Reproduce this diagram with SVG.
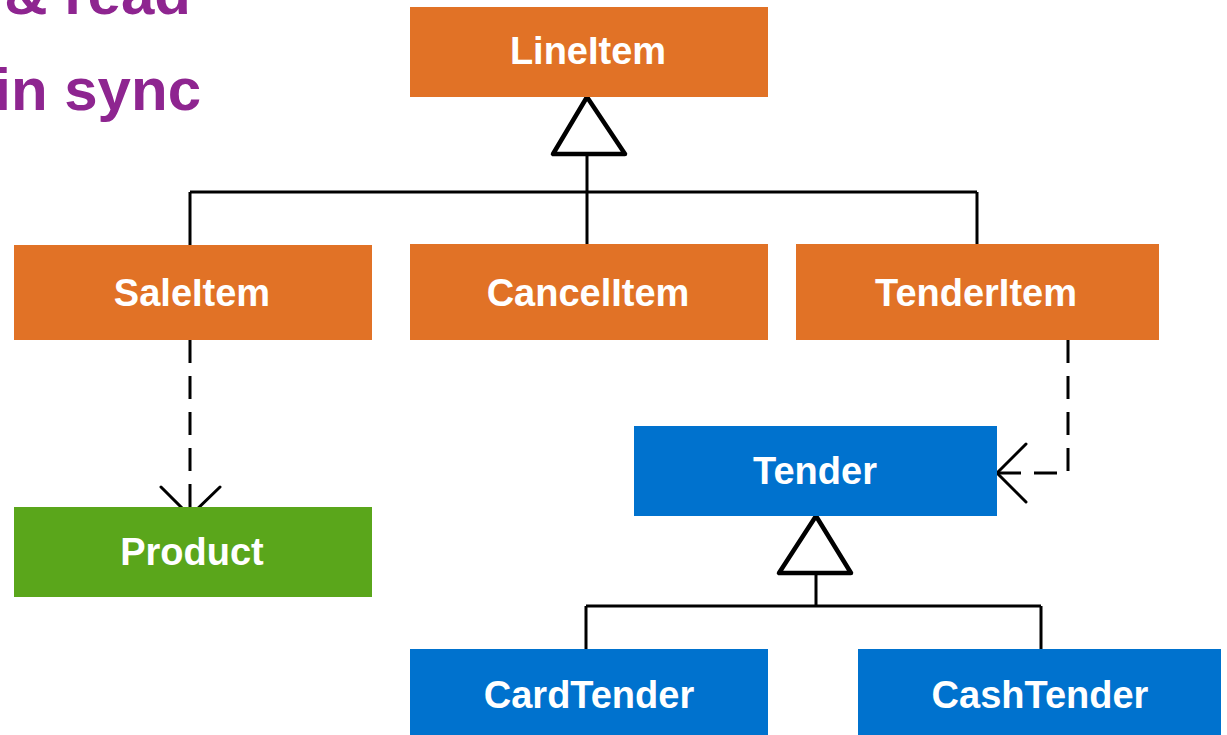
<svg xmlns="http://www.w3.org/2000/svg" width="1227" height="735" viewBox="0 0 1227 735">
<style>
.title{font-family:"Liberation Sans",Arial,sans-serif;font-weight:bold;font-size:60px;fill:#8E2590;text-anchor:end}
.lbl{font-family:"Liberation Sans",Arial,sans-serif;font-weight:bold;font-size:38px;fill:#ffffff;text-anchor:middle}
.orange{fill:#E17226}
.blue{fill:#0072CE}
.green{fill:#5AA61B}
.solid{fill:none;stroke:#000;stroke-width:3}
.tri{fill:#fff;stroke:#000;stroke-width:4.5;stroke-linejoin:round}
.dash{fill:none;stroke:#000;stroke-width:3;stroke-dasharray:23 13}
.head{fill:none;stroke:#000;stroke-width:3;stroke-linecap:round;stroke-linejoin:round}
</style>
<rect width="1227" height="735" fill="#ffffff"/>
<g id="title">
<text class="title" x="191" y="14">&amp; read</text>
<text class="title" x="201" y="110">in sync</text>
</g>
<g id="connectors">
<path class="solid" d="M587 154 V244 M190 192 H977 M190 192 V245 M977 192 V244"/>
<polygon class="tri" points="587,97 553,154 625,154"/>
<path class="solid" d="M816 573 V606 M586 606 H1041 M586 606 V649 M1041 606 V649"/>
<polygon class="tri" points="816,516 779,573 851,573"/>
<path class="dash" d="M190 340 V514"/>
<path class="head" d="M161 487 L190 516 L220 487"/>
<path class="dash" d="M1068 340 V473 H999"/>
<path class="head" d="M1026 444 L997 473 L1026 502"/>
</g>
<g id="LineItem">
<rect class="orange" x="410" y="7" width="358" height="90"/>
<text class="lbl" x="588" y="64">LineItem</text>
</g>
<g id="SaleItem">
<rect class="orange" x="14" y="245" width="358" height="95"/>
<text class="lbl" x="192" y="306">SaleItem</text>
</g>
<g id="CancelItem">
<rect class="orange" x="410" y="244" width="358" height="96"/>
<text class="lbl" x="588" y="306">CancelItem</text>
</g>
<g id="TenderItem">
<rect class="orange" x="796" y="244" width="363" height="96"/>
<text class="lbl" x="976" y="306">TenderItem</text>
</g>
<g id="Product">
<rect class="green" x="14" y="507" width="358" height="90"/>
<text class="lbl" x="192" y="565">Product</text>
</g>
<g id="Tender">
<rect class="blue" x="634" y="426" width="363" height="90"/>
<text class="lbl" x="815" y="484">Tender</text>
</g>
<g id="CardTender">
<rect class="blue" x="410" y="649" width="358" height="86"/>
<text class="lbl" x="589" y="708">CardTender</text>
</g>
<g id="CashTender">
<rect class="blue" x="858" y="649" width="363" height="86"/>
<text class="lbl" x="1040" y="708">CashTender</text>
</g>
</svg>
